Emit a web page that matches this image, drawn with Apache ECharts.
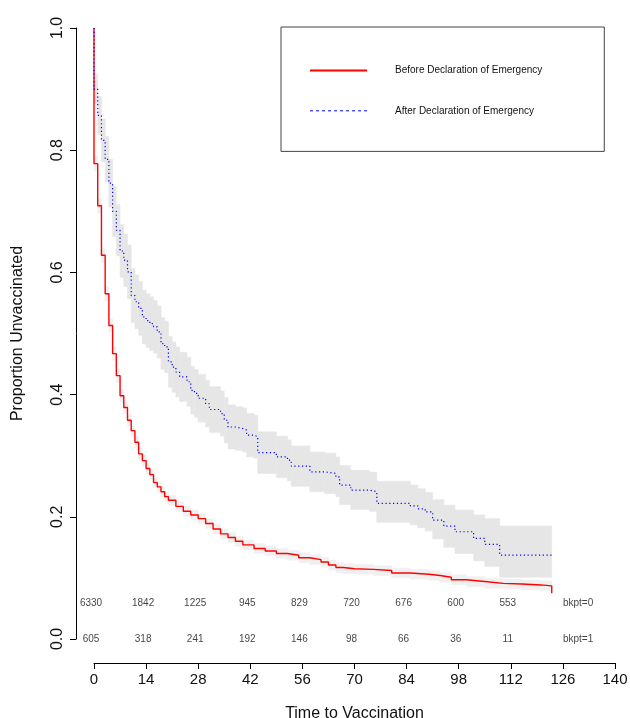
<!DOCTYPE html>
<html>
<head>
<meta charset="utf-8">
<title>Time to Vaccination</title>
<script src="https://cdn.jsdelivr.net/npm/echarts@6/dist/echarts.min.js"></script>
<style>
  html, body { margin: 0; padding: 0; background: #fff; }
  #chart { width: 630px; height: 718px; }
</style>
</head>
<body>
<div id="chart"></div>
<script>
// Kaplan-Meier curves, values
const beforeTime = [0, 0, 1, 2, 3, 4, 5, 6, 7, 8, 9, 10, 11, 12, 13, 14, 15, 16, 17, 18, 19, 20,
  22, 24, 26, 28, 30, 32, 34, 36, 38, 40, 43, 46, 49, 52, 55, 58, 61, 63, 65, 67, 70, 75, 80,
  85, 90, 93, 96, 100, 105, 110, 115, 120, 123];
const beforeSurv = [1, 0.778, 0.709, 0.628, 0.565, 0.513, 0.467, 0.431, 0.398, 0.379, 0.358, 0.341,
  0.322, 0.303, 0.292, 0.279, 0.269, 0.256, 0.249, 0.241, 0.233, 0.227,
  0.217, 0.209, 0.203, 0.197, 0.189, 0.180, 0.172, 0.166, 0.160, 0.154, 0.148, 0.144, 0.140,
  0.137, 0.133, 0.130, 0.126, 0.121, 0.117, 0.115, 0.114, 0.112, 0.108,
  0.106, 0.104, 0.101, 0.097, 0.094, 0.091, 0.090, 0.0885, 0.087, 0.0747];

// confidence band of the "before" curve (times without the starting point)
const beforeBandTime = [0, 1, 2, 3, 4, 5, 6, 7, 8, 9, 10, 11, 12, 13, 14, 15, 16, 17, 18, 19, 20,
  22, 24, 26, 28, 30, 32, 34, 36, 38, 40, 43, 46, 49, 52, 55, 58, 61, 63, 65, 67, 70, 75, 80,
  85, 90, 93, 96, 100, 105, 110, 115, 120, 123];
const beforeLower = [0.766, 0.697, 0.616, 0.553, 0.502, 0.456, 0.420, 0.388, 0.369, 0.348, 0.332,
  0.313, 0.294, 0.283, 0.270, 0.261, 0.248, 0.241, 0.233, 0.225, 0.219,
  0.209, 0.201, 0.195, 0.189, 0.181, 0.172, 0.164, 0.158, 0.152, 0.146, 0.140, 0.136, 0.132,
  0.129, 0.125, 0.122, 0.118, 0.113, 0.109, 0.107, 0.106, 0.104, 0.100,
  0.098, 0.096, 0.093, 0.089, 0.086, 0.083, 0.082, 0.0805, 0.079, 0.079];
const beforeUpper = [0.790, 0.721, 0.640, 0.577, 0.524, 0.478, 0.442, 0.408, 0.389, 0.368, 0.350,
  0.331, 0.312, 0.301, 0.288, 0.277, 0.264, 0.257, 0.249, 0.241, 0.235,
  0.225, 0.217, 0.211, 0.205, 0.197, 0.188, 0.180, 0.174, 0.168, 0.162, 0.156, 0.152, 0.148,
  0.145, 0.141, 0.138, 0.134, 0.129, 0.125, 0.123, 0.122, 0.120, 0.116,
  0.114, 0.112, 0.109, 0.105, 0.102, 0.099, 0.098, 0.0965, 0.095, 0.095];

const afterTime = [0, 0, 1, 2, 3, 4, 5, 6, 7, 8, 9, 10, 11, 12, 13, 14, 15, 16, 17, 18, 19, 20,
  21, 22, 23, 25, 26, 27, 28, 30, 31, 34, 35, 36, 38, 40, 41, 43, 44, 49, 52, 53, 58, 62, 65,
  66, 69, 74, 76, 85, 87, 89, 91, 94, 97, 102, 105, 109, 123];
const afterSurv = [1, 0.900, 0.857, 0.816, 0.785, 0.746, 0.700, 0.669, 0.635, 0.620, 0.601, 0.562,
  0.552, 0.541, 0.527, 0.521, 0.516, 0.511, 0.5025, 0.4835, 0.478, 0.4535,
  0.445, 0.437, 0.429, 0.421, 0.407, 0.402, 0.394, 0.385, 0.3756, 0.369, 0.358, 0.347, 0.3445,
  0.342, 0.3336, 0.331, 0.305, 0.298, 0.2927, 0.283, 0.2736, 0.271, 0.2655,
  0.252, 0.2437, 0.241, 0.222, 0.218, 0.213, 0.208, 0.1946, 0.1848, 0.1755, 0.1647, 0.155,
  0.1374, 0.1374];

const afterBandTime = [0, 1, 2, 3, 4, 5, 6, 7, 8, 9, 10, 11, 12, 13, 14, 15, 16, 17, 18, 19, 20,
  21, 22, 23, 25, 26, 27, 28, 30, 31, 34, 35, 36, 38, 40, 41, 43, 44, 49, 52, 53, 58, 62, 65,
  66, 69, 74, 76, 85, 87, 89, 91, 94, 97, 102, 105, 109, 123];
const afterLower = [0.876, 0.826, 0.781, 0.748, 0.707, 0.659, 0.627, 0.592, 0.577, 0.557, 0.518,
  0.508, 0.497, 0.483, 0.477, 0.472, 0.468, 0.460, 0.441, 0.436, 0.412,
  0.404, 0.396, 0.389, 0.381, 0.368, 0.363, 0.355, 0.347, 0.338, 0.332, 0.321, 0.311, 0.309,
  0.306, 0.298, 0.296, 0.271, 0.264, 0.259, 0.250, 0.241, 0.238, 0.233,
  0.220, 0.212, 0.209, 0.191, 0.187, 0.182, 0.177, 0.164, 0.150, 0.140, 0.128, 0.119,
  0.101, 0.101];
const afterUpper = [0.924, 0.888, 0.851, 0.822, 0.785, 0.741, 0.711, 0.678, 0.663, 0.645, 0.606,
  0.596, 0.585, 0.571, 0.565, 0.560, 0.554, 0.545, 0.526, 0.520, 0.495,
  0.486, 0.478, 0.469, 0.461, 0.446, 0.441, 0.433, 0.423, 0.413, 0.406, 0.395, 0.383, 0.380,
  0.378, 0.369, 0.366, 0.339, 0.332, 0.326, 0.316, 0.306, 0.304, 0.298,
  0.284, 0.276, 0.273, 0.258, 0.252, 0.246, 0.240, 0.228, 0.219, 0.211, 0.203, 0.197,
  0.185, 0.185];

// numbers at risk
const riskTimes = [0, 14, 28, 42, 56, 70, 84, 98, 112];
const riskBefore = [6330, 1842, 1225, 945, 829, 720, 676, 600, 553];
const riskAfter = [605, 318, 241, 192, 146, 98, 66, 36, 11];
const strataLabels = ['bkpt=0', 'bkpt=1'];

const xTicks = { min: 0, max: 140, interval: 14 };
const yTicks = { min: 0, max: 1, interval: 0.2 };

const seriesNames = ['Before Declaration of Emergency', 'After Declaration of Emergency'];

// layout (kept apart from the data)
const riskRowY = [0.058, 0.0];
const strataLabelX = 126;
const FONT = 'Liberation Sans, Arial, Helvetica, sans-serif';

function pairs(xs, ys) {
  return xs.map((x, i) => [x, ys[i]]);
}

// one step of the band = [from, to, lower, upper]
function bandSteps(xs, lo, hi) {
  const out = [];
  for (let i = 0; i < xs.length - 1; i++) {
    out.push([xs[i], xs[i + 1], lo[i], hi[i]]);
  }
  return out;
}

function bandSeries(xs, lo, hi, color) {
  return {
    type: 'custom',
    silent: true,
    encode: { x: [0, 1], y: [2, 3] },
    data: bandSteps(xs, lo, hi),
    renderItem: function (params, api) {
      const a = api.coord([api.value(0), api.value(3)]);
      const b = api.coord([api.value(1), api.value(2)]);
      return {
        type: 'rect',
        shape: { x: a[0], y: a[1], width: b[0] - a[0], height: b[1] - a[1] },
        style: { fill: color, stroke: color, lineWidth: 0.6 }
      };
    }
  };
}

function riskSeries(row, counts) {
  return {
    type: 'scatter',
    symbolSize: 0,
    silent: true,
    data: riskTimes.map((t, i) => [t, riskRowY[row], counts[i]]),
    label: {
      show: true,
      position: 'inside',
      offset: [-3, 0],
      formatter: p => String(p.value[2]),
      fontSize: 10,
      fontFamily: FONT,
      color: '#111'
    }
  };
}

const chart = echarts.init(document.getElementById('chart'));

const option = {
  animation: false,
  backgroundColor: '#fff',
  grid: {
    left: 94, right: 15, top: 28, bottom: 79,
    containLabel: false,
    outerBoundsMode: 'none'
  },
  legend: {
    left: 281,
    top: 27,
    orient: 'vertical',
    data: [
      { name: seriesNames[0] },
      { name: seriesNames[1], lineStyle: { type: [3, 3], width: 1 } }
    ],
    itemWidth: 57,
    itemHeight: 14,
    itemGap: 29,
    padding: [38, 62, 35, 28],
    borderColor: '#444',
    borderWidth: 1,
    borderRadius: 0,
    selectedMode: false,
    itemStyle: { opacity: 0 },
    textStyle: {
      fontSize: 10,
      fontFamily: FONT,
      color: '#111',
      padding: [0, 0, 0, 23]
    }
  },
  xAxis: {
    type: 'value',
    min: xTicks.min,
    max: xTicks.max,
    interval: xTicks.interval,
    offset: 24,
    name: 'Time to Vaccination',
    nameLocation: 'middle',
    nameGap: 43,
    nameTextStyle: { fontSize: 16, fontFamily: FONT, color: '#111' },
    axisLine: { show: true, onZero: false, lineStyle: { color: '#000', width: 1 } },
    axisTick: { show: true, length: 6, lineStyle: { color: '#000' } },
    axisLabel: { fontSize: 15, fontFamily: FONT, color: '#111', margin: 9 },
    splitLine: { show: false }
  },
  yAxis: {
    type: 'value',
    min: yTicks.min,
    max: yTicks.max,
    interval: yTicks.interval,
    offset: 18,
    name: 'Proportion Unvaccinated',
    nameLocation: 'middle',
    nameGap: 50,
    nameTextStyle: { fontSize: 16, fontFamily: FONT, color: '#111' },
    axisLine: { show: true, onZero: false, lineStyle: { color: '#000', width: 1 } },
    axisTick: { show: true, length: 6, lineStyle: { color: '#000' } },
    axisLabel: {
      fontSize: 16,
      fontFamily: FONT,
      color: '#111',
      rotate: 90,
      margin: 10,
      formatter: v => v.toFixed(1)
    },
    splitLine: { show: false }
  },
  series: [
    bandSeries(afterBandTime, afterLower, afterUpper, '#e6e6e6'),
    bandSeries(beforeBandTime, beforeLower, beforeUpper, '#f0f0f0'),
    {
      name: seriesNames[0],
      type: 'line',
      step: 'end',
      symbol: 'none',
      lineStyle: { color: '#ff0000', width: 1.4 },
      itemStyle: { color: '#ff0000' },
      data: pairs(beforeTime, beforeSurv)
    },
    {
      name: seriesNames[1],
      type: 'line',
      step: 'end',
      symbol: 'none',
      lineStyle: { color: '#0000ff', width: 1.2, type: [1.2, 2.6] },
      itemStyle: { color: '#0000ff' },
      data: pairs(afterTime, afterSurv)
    },
    riskSeries(0, riskBefore),
    riskSeries(1, riskAfter),
    {
      type: 'scatter',
      symbolSize: 0,
      silent: true,
      data: strataLabels.map((s, i) => [strataLabelX, riskRowY[i], s]),
      label: {
        show: true,
        position: 'inside',
        align: 'left',
        formatter: p => p.value[2],
        fontSize: 10,
        fontFamily: FONT,
        color: '#111'
      }
    }
  ]
};

chart.setOption(option);
window.addEventListener('resize', function () {
  chart.resize();
});
</script>
</body>
</html>
